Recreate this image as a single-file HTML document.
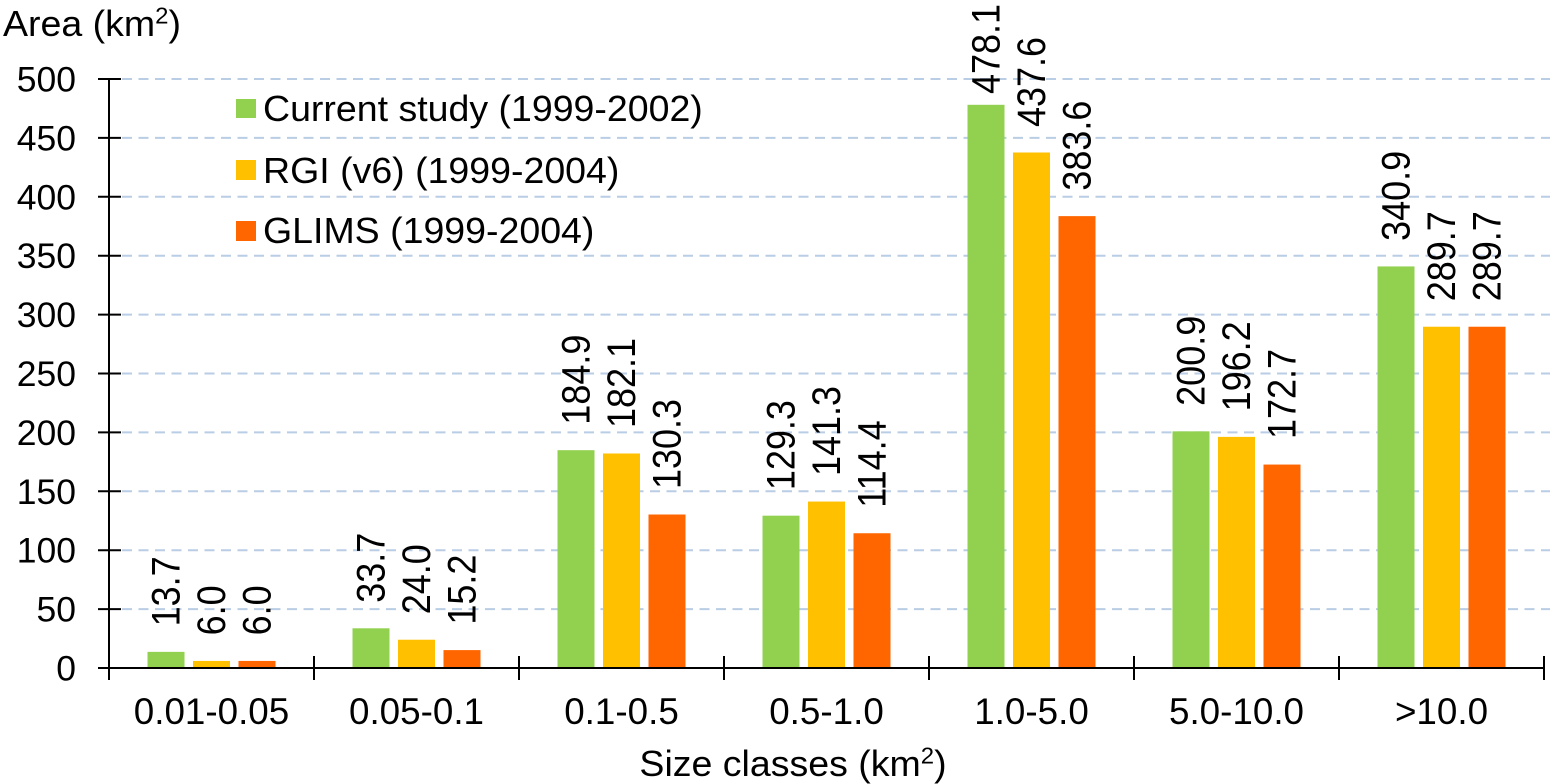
<!DOCTYPE html>
<html lang="en">
<head>
<meta charset="utf-8">
<title>Area by size class</title>
<style>
html,body{margin:0;padding:0;background:#fff;}
svg{display:block;}
text{font-family:"Liberation Sans",sans-serif;fill:#000;}
</style>
</head>
<body>
<svg id="chart" xmlns="http://www.w3.org/2000/svg" width="1552" height="784" viewBox="0 0 1552 784">
  <text transform="translate(3,36) scale(1.042,1)" font-size="36">Area (km<tspan font-size="23" dy="-12.5">2</tspan><tspan dy="12.5">)</tspan></text>
  <text transform="translate(793,776) scale(1.042,1)" font-size="36" text-anchor="middle">Size classes (km<tspan font-size="23" dy="-12.5">2</tspan><tspan dy="12.5">)</tspan></text>
  <g id="grid"></g>
  <g id="bars"></g>
  <g id="axes"></g>
  <g id="labels"></g>
  <g>
    <g>
      <rect x="236" y="99" width="20" height="19" fill="#92d050"></rect>
      <text transform="translate(263,121) scale(1.042,1)" font-size="36">Current study (1999-2002)</text>
    </g>
    <g>
      <rect x="236" y="160" width="20" height="20" fill="#ffc000"></rect>
      <text transform="translate(263,183) scale(1.042,1)" font-size="36">RGI (v6) (1999-2004)</text>
    </g>
    <g>
      <rect x="236" y="221" width="20" height="20" fill="#ff6600"></rect>
      <text transform="translate(263,243) scale(1.042,1)" font-size="36">GLIMS (1999-2004)</text>
    </g>
  </g>
</svg>
<script>
const categories = ["0.01-0.05", "0.05-0.1", "0.1-0.5", "0.5-1.0", "1.0-5.0", "5.0-10.0", ">10.0"];
const currentStudy = [13.7, 33.7, 184.9, 129.3, 478.1, 200.9, 340.9];
const rgiV6 = [6.0, 24.0, 182.1, 141.3, 437.6, 196.2, 289.7];
const glims = [6.0, 15.2, 130.3, 114.4, 383.6, 172.7, 289.7];
const yTicks = [0, 50, 100, 150, 200, 250, 300, 350, 400, 450, 500];

const NS = "http://www.w3.org/2000/svg";
const plotLeft = 109, plotRight = 1544, plotBottom = 668, plotTop = 79;
const yMax = yTicks[yTicks.length - 1];
const series = [
  { key: "current-study", values: currentStudy, color: "#92d050", offset: -45.5 },
  { key: "rgi", values: rgiV6, color: "#ffc000", offset: 0 },
  { key: "glims", values: glims, color: "#ff6600", offset: 45.5 }
];
const barWidth = 37;
function yScale(v) { return plotBottom - (v / yMax) * (plotBottom - plotTop); }
function xBand(i) { return plotLeft + (i + 0.5) * (plotRight - plotLeft) / categories.length; }
function xEdge(i) { return plotLeft + i * (plotRight - plotLeft) / categories.length; }
function make(tag, attrs, parent) {
  const el = document.createElementNS(NS, tag);
  for (const k in attrs) el.setAttribute(k, attrs[k]);
  parent.appendChild(el);
  return el;
}
const gridG = document.getElementById("grid");
const barsG = document.getElementById("bars");
const axesG = document.getElementById("axes");
const labelsG = document.getElementById("labels");

yTicks.forEach(function (t) {
  const y = yScale(t);
  if (t > 0) {
    const g = make("line", { x1: 122, x2: plotRight + 6, y1: y, y2: y, stroke: "#b9cde5", "stroke-width": 2, "stroke-dasharray": "10 6.5" }, gridG);
    
    
  }
  const tick = make("line", { x1: 98, x2: 121, y1: y, y2: y, stroke: "#000", "stroke-width": 2 }, axesG);
  
  
  const lab = make("text", { x: 76, y: y + 12.5, "font-size": 35.5, "text-anchor": "end" }, axesG);
  lab.textContent = String(t);
  
  
});

series.forEach(function (s) {
  s.values.forEach(function (v, i) {
    const cx = xBand(i) + s.offset;
    const top = yScale(v);
    const bar = make("rect", { x: cx - barWidth / 2, y: top, width: barWidth, height: plotBottom - top, fill: s.color }, barsG);
    
    
    const by = Math.max(top - 25.5, 94);
    const t = make("text", { transform: "translate(" + (cx + 13.5) + "," + by + ") rotate(-90) scale(1,1.1)", "font-size": 36 }, labelsG);
    t.textContent = v.toFixed(1);
    
    
  });
});

const yAxis = make("line", { x1: plotLeft, x2: plotLeft, y1: plotTop, y2: 680, stroke: "#000", "stroke-width": 2 }, axesG);


const xAxis = make("line", { x1: 98, x2: plotRight + 1, y1: plotBottom, y2: plotBottom, stroke: "#000", "stroke-width": 2 }, axesG);


for (let i = 1; i <= categories.length; i++) {
  const x = xEdge(i);
  const tick = make("line", { x1: x, x2: x, y1: 656, y2: 680, stroke: "#000", "stroke-width": 2 }, axesG);
  
  
}
categories.forEach(function (c, i) {
  const t = make("text", { x: xBand(i), y: 724, "font-size": 36.8, "text-anchor": "middle" }, axesG);
  t.textContent = c;
  
  
});
</script>
</body>
</html>
